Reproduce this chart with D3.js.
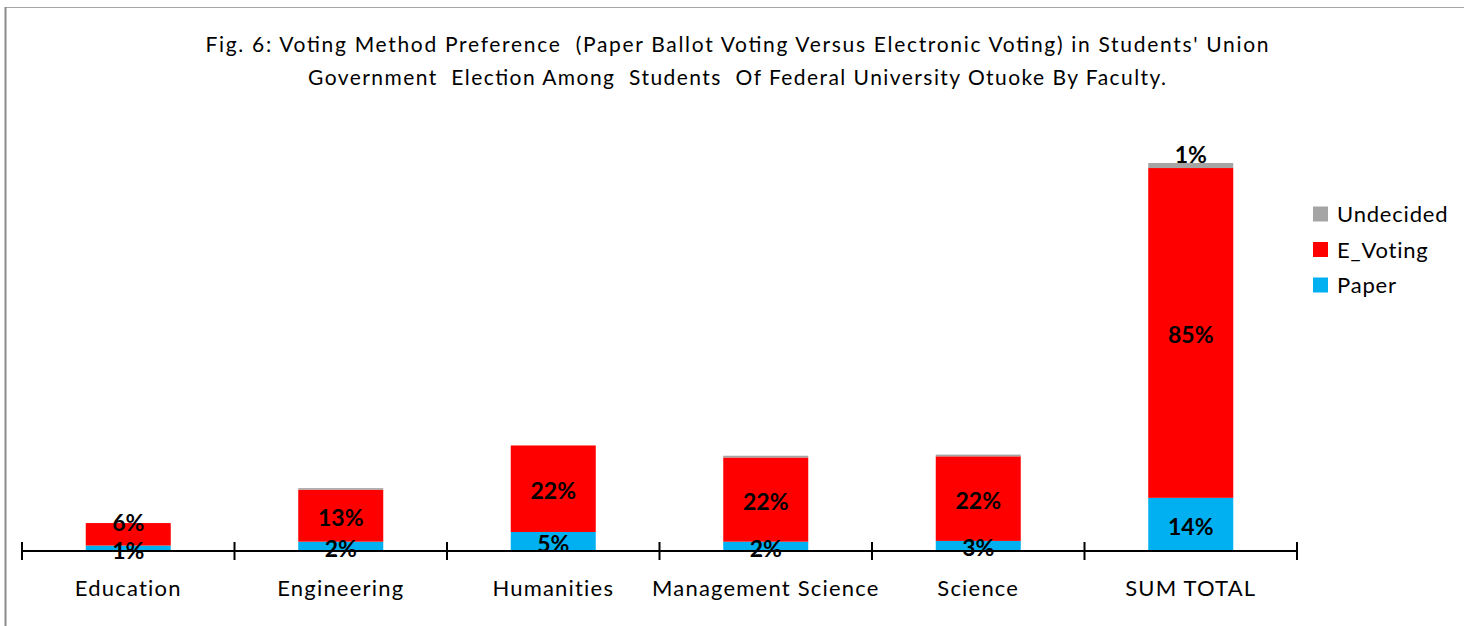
<!DOCTYPE html>
<html>
<head>
<meta charset="utf-8">
<script src="https://cdn.jsdelivr.net/npm/d3@7"></script>
<style>
  html, body { margin: 0; padding: 0; background: #fff; }
  svg { display: block; }
  text { font-family: Lato, Carlito, Calibri, "Open Sans", sans-serif; white-space: pre; }
</style>
</head>
<body>
<svg id="chart" width="1464" height="626"></svg>
<script>
// Faculty categories and the share (%) of each voting-method preference
const categories = ["Education", "Engineering", "Humanities", "Management Science", "Science", "SUM TOTAL"];
const paper      = [1.4, 2.4, 4.9, 2.4, 2.6, 13.7];
const eVoting    = [5.8, 13.4, 22.3, 21.7, 21.8, 85.0];
const undecided  = [0, 0.4, 0, 0.45, 0.45, 1.3];

const seriesNames  = ["Paper", "E_Voting", "Undecided"];
const seriesColors = ["#00B0F0", "#FF0000", "#A5A5A5"];

const titleLines = [
  "Fig. 6: Voting Method Preference  (Paper Ballot Voting Versus Electronic Voting) in Students' Union",
  "Government  Election Among  Students  Of Federal University Otuoke By Faculty."
];

const rows = categories.map((c, i) => ({
  category: c, Paper: paper[i], E_Voting: eVoting[i], Undecided: undecided[i]
}));

const svg = d3.select("#chart");

// chart frame
svg.append("line").attr("x1", 5).attr("x2", 1464).attr("y1", 7.5).attr("y2", 7.5)
  .attr("stroke", "#a6a6a6").attr("stroke-width", 1);
svg.append("line").attr("x1", 5.5).attr("x2", 5.5).attr("y1", 7).attr("y2", 626)
  .attr("stroke", "#8c8c8c").attr("stroke-width", 2);

// title
const titleWidths = [1063, 858];
const titleBase = [52, 85];
titleLines.forEach((t, i) => {
  svg.append("text")
    .attr("x", 737).attr("y", titleBase[i])
    .attr("text-anchor", "middle")
    .attr("font-size", 21)
    .attr("fill", "#000")
    .attr("textLength", titleWidths[i])
    .attr("lengthAdjust", "spacing")
    .text(t);
});

// scales
const x = d3.scaleBand().domain(categories).range([22, 1297])
  .paddingInner(0.6).paddingOuter(0.3);
const y = d3.scaleLinear().domain([0, 100]).range([551, 163]);

const stack = d3.stack().keys(seriesNames);
const layers = stack(rows);

// bars
const g = svg.append("g");
layers.forEach((layer, li) => {
  g.selectAll(null).data(layer).enter().append("rect")
    .attr("x", d => x(d.data.category))
    .attr("width", x.bandwidth())
    .attr("y", d => y(d[1]))
    .attr("height", d => Math.max(0, y(d[0]) - y(d[1])))
    .attr("fill", seriesColors[li]);
});

// axis: line, boundary ticks and category labels
const axisG = svg.append("g").attr("transform", "translate(0,551)")
  .call(d3.axisBottom(x).tickSize(0).tickPadding(0));
axisG.select(".domain").remove();
axisG.selectAll(".tick text")
  .attr("y", 45)
  .attr("dy", 0)
  .attr("font-size", 22)
  .attr("letter-spacing", "1.2px")
  .attr("fill", "#000")
  .style("font-family", "Lato, Carlito, Calibri, sans-serif");

const [r0, r1] = x.range();
svg.append("line").attr("x1", r0).attr("x2", r1).attr("y1", 551).attr("y2", 551)
  .attr("stroke", "#000").attr("stroke-width", 2);
const bounds = d3.range(categories.length + 1).map(i => r0 + i * x.step());
svg.selectAll(null).data(bounds).enter().append("line")
  .attr("x1", d => d).attr("x2", d => d)
  .attr("y1", 542).attr("y2", 560)
  .attr("stroke", "#000").attr("stroke-width", 2);

// data labels, stacked from the bottom, nudged up where they would collide
const labelSize = 23;
const capHalf = labelSize * 0.36;
const minGap = 28;
categories.forEach((c, ci) => {
  let prevCenter = null;
  layers.forEach((layer, li) => {
    const d = layer[ci];
    const v = d[1] - d[0];
    if (Math.round(v) < 1) return;
    const top = y(d[1]), bottom = y(d[0]);
    let center = (top + bottom) / 2 + 2;
    const isTop = li === layers.length - 1 || layers.slice(li + 1).every(L => L[ci][1] - L[ci][0] === 0);
    if (isTop && bottom - top < 8) center = top - 8;
    if (prevCenter !== null && prevCenter - center < minGap) center = prevCenter - minGap;
    prevCenter = center;
    svg.append("text")
      .attr("x", x(c) + x.bandwidth() / 2)
      .attr("y", center + capHalf)
      .attr("text-anchor", "middle")
      .attr("font-size", labelSize)
      .attr("font-weight", "bold")
      .attr("fill", "#000")
      .text(Math.round(v) + "%");
  });
});

// legend (top-down: Undecided, E_Voting, Paper)
const legendOrder = [2, 1, 0];
const legend = svg.append("g");
legendOrder.forEach((si, k) => {
  const cy = 214 + k * 35.5;
  legend.append("rect").attr("x", 1313).attr("y", cy - 7.5)
    .attr("width", 15).attr("height", 15).attr("fill", seriesColors[si]);
  legend.append("text").attr("x", 1337).attr("y", cy + 8)
    .attr("font-size", 22).attr("letter-spacing", "0.8px").attr("fill", "#000")
    .text(seriesNames[si]);
});
</script>
</body>
</html>
